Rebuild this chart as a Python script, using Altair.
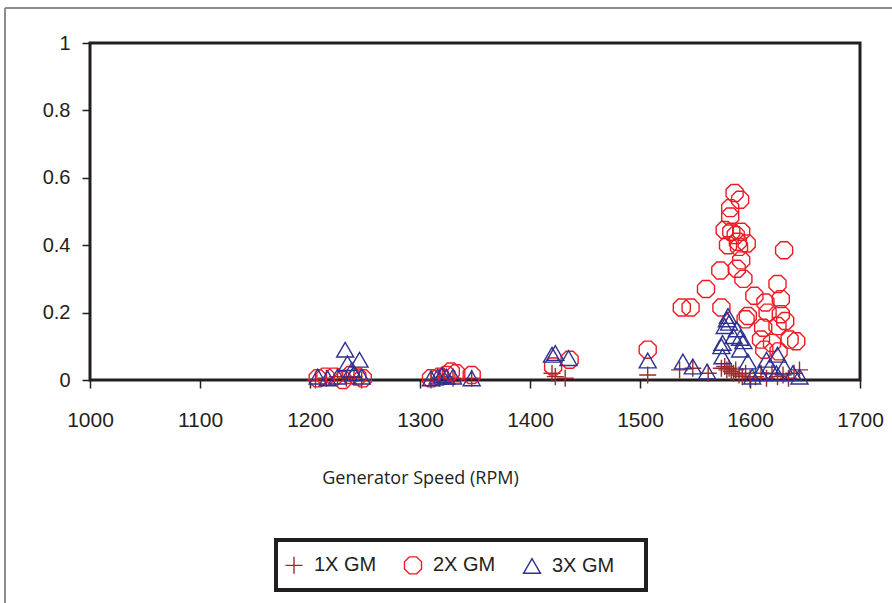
import altair as alt
import pandas as pd

# ---- data ----
series_names = ["1X GM", "2X GM", "3X GM"]

x_1x = [1205, 1215, 1225, 1233, 1240, 1247,
        1310, 1318, 1322, 1330, 1347,
        1420, 1423, 1432, 1507,
        1536, 1548, 1562, 1574, 1577, 1579, 1581, 1583, 1585, 1587, 1590,
        1593, 1596, 1600, 1605, 1610, 1615, 1620, 1625, 1630, 1635, 1640, 1645]
y_1x = [0.0, 0.005, 0.01, 0.005, 0.01, 0.0,
        0.0, 0.005, 0.01, 0.005, 0.005,
        0.02, 0.01, 0.005, 0.015,
        0.03, 0.035, 0.02, 0.035, 0.04, 0.03, 0.035, 0.025, 0.02, 0.03, 0.015,
        0.01, 0.02, 0.005, 0.01, 0.02, 0.005, 0.02, 0.01, 0.015, 0.005, 0.02, 0.03]

x_2x = [1207, 1214, 1222, 1230, 1237, 1243, 1248,
        1310, 1318, 1324, 1328, 1333, 1347,
        1421, 1436, 1507,
        1586, 1591, 1582, 1582, 1577, 1583, 1587, 1592, 1580, 1589, 1597, 1590,
        1631, 1573, 1588, 1592, 1594, 1560, 1538, 1546, 1574, 1604, 1625, 1614,
        1628, 1598, 1596, 1616, 1628, 1632, 1612, 1625, 1610, 1620, 1636, 1642,
        1613, 1626]
y_2x = [0.005, 0.01, 0.01, 0.0, 0.015, 0.01, 0.005,
        0.005, 0.01, 0.015, 0.025, 0.02, 0.015,
        0.04, 0.06, 0.09,
        0.555, 0.535, 0.51, 0.485, 0.445, 0.44, 0.43, 0.44, 0.40, 0.41, 0.405, 0.395,
        0.385, 0.325, 0.33, 0.355, 0.30, 0.27, 0.215, 0.215, 0.215, 0.25, 0.285, 0.23,
        0.24, 0.19, 0.18, 0.20, 0.195, 0.175, 0.155, 0.16, 0.12, 0.11, 0.12, 0.115,
        0.09, 0.085]

x_3x = [1207, 1216, 1225, 1232, 1234, 1238, 1240, 1245, 1247,
        1310, 1316, 1320, 1324, 1330, 1347,
        1420, 1423, 1435, 1507,
        1580, 1579, 1581, 1577, 1588, 1585, 1591, 1594, 1575, 1574, 1591, 1575,
        1598, 1539, 1548, 1561, 1615, 1625, 1618, 1631, 1609, 1624, 1639, 1645,
        1602]
y_3x = [0.01, 0.005, 0.01, 0.09, 0.05, 0.03, 0.02, 0.06, 0.01,
        0.005, 0.01, 0.015, 0.01, 0.01, 0.005,
        0.075, 0.08, 0.065, 0.058,
        0.19, 0.18, 0.17, 0.16, 0.15, 0.13, 0.125, 0.115, 0.11, 0.10, 0.09, 0.07,
        0.055, 0.055, 0.04, 0.025, 0.06, 0.075, 0.04, 0.04, 0.02, 0.02, 0.02, 0.01,
        0.01]

x_ticks = [1000, 1100, 1200, 1300, 1400, 1500, 1600, 1700]
y_ticks = [0, 0.2, 0.4, 0.6, 0.8, 1]

colors = ["#9e2a2b", "#ec1c24", "#2e3192"]
octagon = "M-0.42,-1H0.42L1,-0.42V0.42L0.42,1H-0.42L-1,0.42V-0.42Z"
shapes = ["M-1,0H1M0,-1V1", octagon, "triangle-up"]

rows = []
for name, xs, ys in zip(series_names, [x_1x, x_2x, x_3x], [y_1x, y_2x, y_3x]):
    for a, b in zip(xs, ys):
        rows.append({"series": name, "rpm": a, "amp": b})
df = pd.DataFrame(rows)
df["order"] = df["series"].map({n: i for i, n in enumerate(series_names)})

W, H = 770, 337
DARK = "#231f20"
FONT = "Liberation Sans"

leg = alt.Legend(
    title=None, orient="none", direction="horizontal", legendX=194, legendY=512,
    labelFont=FONT, labelFontSize=20, labelColor=DARK, symbolSize=290,
    symbolStrokeWidth=1.4, labelOffset=10, columnPadding=24,
    padding=0,
)

points = alt.Chart(df).mark_point(filled=False, strokeWidth=1.4, size=290, clip=False, opacity=1).encode(
    x=alt.X("rpm:Q",
            scale=alt.Scale(domain=[1000, 1700], nice=False, zero=False),
            axis=alt.Axis(values=x_ticks, format="d", title="Generator Speed (RPM)",
                          domain=False, grid=False, ticks=True, tickSize=8,
                          tickColor=DARK, tickWidth=1.5,
                          labelFont=FONT, labelFontSize=21, labelColor=DARK,
                          labelPadding=21, labelFlush=False, labelOverlap=False,
                          titleFont="Open Sans", titleFontSize=18, titleFontWeight="normal",
                          titleColor=DARK, titleX=330, titleY=98,
                          titleAlign="center", titleBaseline="middle")),
    y=alt.Y("amp:Q",
            scale=alt.Scale(domain=[0, 1], nice=False),
            axis=alt.Axis(values=y_ticks, format="~g", title=None,
                          domain=False, grid=False, ticks=True, tickSize=8,
                          tickColor=DARK, tickWidth=1.5,
                          labelFont=FONT, labelFontSize=20, labelColor=DARK,
                          labelPadding=12, labelFlush=False)),
    color=alt.Color("series:N", scale=alt.Scale(domain=series_names, range=colors), legend=leg),
    shape=alt.Shape("series:N", scale=alt.Scale(domain=series_names, range=shapes), legend=leg),
    order=alt.Order("order:Q"),
)

legend_box = alt.Chart(df).mark_rect(fillOpacity=0, stroke=DARK, strokeWidth=3).encode(
    x=alt.value(186), x2=alt.value(556), y=alt.value(497), y2=alt.value(547)
)

outer_top = alt.Chart(df).mark_rule(color="#8c8c8c", strokeWidth=1).encode(
    x=alt.value(-85), x2=alt.value(802), y=alt.value(-35)
)
outer_left = alt.Chart(df).mark_rule(color="#8c8c8c", strokeWidth=1).encode(
    x=alt.value(-85), y=alt.value(-35), y2=alt.value(560)
)

chart = alt.layer(outer_top, outer_left, legend_box, points).properties(
    width=W, height=H,
    autosize=alt.AutoSizeParams(type="none"),
    padding={"left": 90, "top": 43, "right": 32, "bottom": 223},
    background="white",
).configure_view(stroke=DARK, strokeWidth=3)

chart.save("out.html", embed_options={"renderer": "svg", "actions": False})
